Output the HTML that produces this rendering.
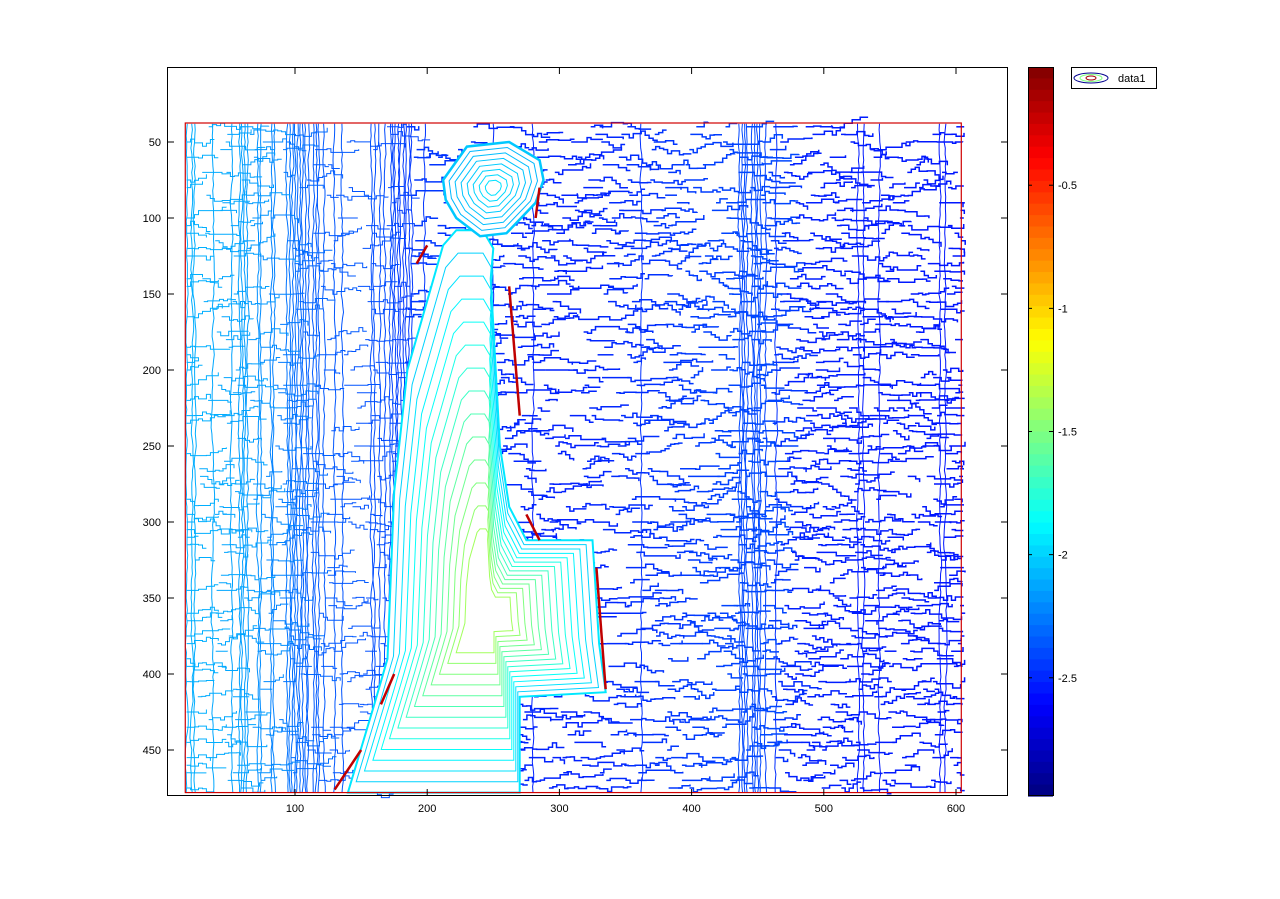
<!DOCTYPE html>
<html><head><meta charset="utf-8"><style>
body{margin:0;background:#fff;font-family:"Liberation Sans",sans-serif}
svg text{font-family:"Liberation Sans",sans-serif;font-size:11px;fill:#000}
</style></head><body>
<svg id="fig" width="1280" height="894" xmlns="http://www.w3.org/2000/svg">
<rect width="1280" height="894" fill="#fff"/>
<g id="plot"></g>
<rect x="167.5" y="67.5" width="840" height="728" fill="none" stroke="#000" stroke-width="1"/>
<g id="ticks"></g>
<g id="cbar"></g>
<g>
<rect x="1071.5" y="67.5" width="85" height="21" fill="#fff" stroke="#000"/>
<ellipse cx="1091" cy="78" rx="17" ry="5" fill="none" stroke="#00008f"/>
<ellipse cx="1091" cy="78" rx="11" ry="3.5" fill="none" stroke="#7fff7f"/>
<ellipse cx="1091" cy="78" rx="5" ry="2" fill="none" stroke="#a00000"/>
<text x="1118" y="82">data1</text>
</g>
</svg>
<script>
// data
const xTicks=[100,200,300,400,500,600];
const yTicks=[50,100,150,200,250,300,350,400,450];
const cbTicks=[-0.5,-1,-1.5,-2,-2.5];
const levelX=[17,60,100,112,120,170,180,190,240,300,440,452,470,600,604];
const levelV=[-2.1,-2.15,-2.3,-2.35,-2.35,-2.4,-2.45,-2.45,-2.5,-2.52,-2.4,-2.4,-2.52,-2.55,-2.55];
const densX=[17,60,90,100,118,125,170,176,184,190,430,436,452,458,604];
const densV=[0.5,0.5,0.35,0.9,0.9,0.2,0.2,0.9,0.9,0.08,0.08,0.9,0.9,0.08,0.08];
const hdensX=[17,120,190,300,604];
const hdensV=[0.5,0.45,0.5,0.6,0.7];
const bodyX=[212,222,242,250,248,255,262,268,275,325,330,335,270,270,140,160,170,175,185];
const bodyY=[118,108,108,120,140,250,290,300,312,312,380,412,415,478,478,420,390,280,200];
const headX=[212,230,262,285,288,282,260,240,222,214];
const headY=[75,53,50,62,75,90,110,112,100,88];
const vmin=-2.98,vmax=-0.02;
// axes
const px=x=>162.8+1.322*x, py=y=>66+1.52*y;
const cbY=v=>67+(-0.02-v)/(vmax-vmin)*729;
function jet(v){let t=(v-vmin)/(vmax-vmin);const c=a=>Math.round(255*Math.max(0,Math.min(1,1.5-Math.abs(4*t-a))));return `rgb(${c(3)},${c(2)},${c(1)})`;}
function interp(xs,vs,x){if(x<=xs[0])return vs[0];for(let i=1;i<xs.length;i++)if(x<=xs[i])return vs[i-1]+(vs[i]-vs[i-1])*(x-xs[i-1])/(xs[i]-xs[i-1]);return vs[vs.length-1];}
let seed=7;const rnd=()=>(seed=(seed*16807)%2147483647)/2147483647;
const NS="http://www.w3.org/2000/svg";
const plot=document.getElementById('plot');
function mk(tag,attrs,parent){const e=document.createElementNS(NS,tag);for(const k in attrs)e.setAttribute(k,attrs[k]);parent.appendChild(e);return e;}
// vertical texture
for(let x=18;x<=604;x+=2){
  if(rnd()>interp(densX,densV,x))continue;
  let d='';let cx=px(x);
  for(let y=38;y<=478;y+=4){cx+=(rnd()-0.5)*2.4;cx+=(px(x)-cx)*0.3;d+=(d?'L':'M')+cx.toFixed(1)+' '+py(y).toFixed(1);}
  const p=mk('path',{d:d,fill:'none',stroke:jet(interp(levelX,levelV,x)),'stroke-width':1},plot);
  
  
}
// horizontal texture
for(let y=40;y<=476;y+=5){
  let x=18;
  while(x<604){let len=6+rnd()*26;
    if(rnd()<interp(hdensX,hdensV,x)){let yy=y;let d='M'+px(x).toFixed(1)+' '+py(yy).toFixed(1);
      for(let s=x;s<Math.min(x+len,604);s+=3){yy+=(rnd()<0.5?(rnd()-0.5)*6:0);d+='H'+px(s+3).toFixed(1)+'V'+py(yy).toFixed(1);}
      const p=mk('path',{d:d,fill:'none',stroke:jet(interp(levelX,levelV,x)),'stroke-width':x>180?1.5:1},plot);
      
      }
    x+=len;}
}
// figure silhouette
function poly(xs,ys,cxv,cyv,s){return xs.map((x,i)=>px(cxv+(x-cxv)*s).toFixed(1)+','+py(cyv+(ys[i]-cyv)*s).toFixed(1)).join(' ');}
const bodyEl=mk('polygon',{points:poly(bodyX,bodyY,0,0,1),fill:'#fff',stroke:'#00e8ff','stroke-width':2},plot);


for(let k=1;k<14;k++){const s=1-k*0.06;const e=mk('polygon',{points:poly(bodyX,bodyY,245,360,s),fill:'none',stroke:jet(-2.05+k*0.05),'stroke-width':1},plot);
  
  }
const headEl=mk('polygon',{points:poly(headX,headY,0,0,1),fill:'#fff',stroke:'#00c8ff','stroke-width':2.5},plot);


for(let k=1;k<8;k++){const e=mk('polygon',{points:poly(headX,headY,250,80,1-k*0.12),fill:'none',stroke:jet(-2.1+k*0.02),'stroke-width':1},plot);
  
  }
// red edges
const edges=[[[285,80],[282,100]],[[262,145],[270,230]],[[275,295],[285,312]],[[328,330],[335,410]],[[175,400],[165,420]],[[150,450],[130,476]],[[200,118],[192,130]]];
edges.forEach(s=>{const e=mk('line',{x1:px(s[0][0]),y1:py(s[0][1]),x2:px(s[1][0]),y2:py(s[1][1]),stroke:'#c00000','stroke-width':2.5},plot);
  
  });
const br=mk('rect',{x:px(17),y:py(37.5),width:px(604)-px(17),height:py(478)-py(37.5),fill:'none',stroke:'#d00000','stroke-width':1.2},plot);


// ticks
const tg=document.getElementById('ticks');
xTicks.forEach(v=>{const x=px(v);mk('line',{x1:x,y1:796,x2:x,y2:789,stroke:'#000'},tg);mk('line',{x1:x,y1:67,x2:x,y2:74,stroke:'#000'},tg);
  const t=mk('text',{x:x,y:812,'text-anchor':'middle'},tg);t.textContent=v;
  
  });
yTicks.forEach(v=>{const y=py(v);mk('line',{x1:167,y1:y,x2:174,y2:y,stroke:'#000'},tg);mk('line',{x1:1008,y1:y,x2:1001,y2:y,stroke:'#000'},tg);
  const t=mk('text',{x:161,y:y+4,'text-anchor':'end'},tg);t.textContent=v;
  
  });
// colorbar
const cb=document.getElementById('cbar');
for(let i=0;i<64;i++){const v0=vmax-(vmax-vmin)*i/64;const y0=67+729*i/64;mk('rect',{x:1028,y:y0,width:25,height:729/64+0.6,fill:jet(v0-(vmax-vmin)/128)},cb);}
mk('rect',{x:1028.5,y:67.5,width:25,height:728,fill:'none',stroke:'#000'},cb);
cbTicks.forEach(v=>{const y=cbY(v);mk('line',{x1:1028,y1:y,x2:1032,y2:y,stroke:'#000'},cb);mk('line',{x1:1053,y1:y,x2:1049,y2:y,stroke:'#000'},cb);
  const t=mk('text',{x:1058,y:y+4},cb);t.textContent=v;
  
  });
</script>
</body></html>
